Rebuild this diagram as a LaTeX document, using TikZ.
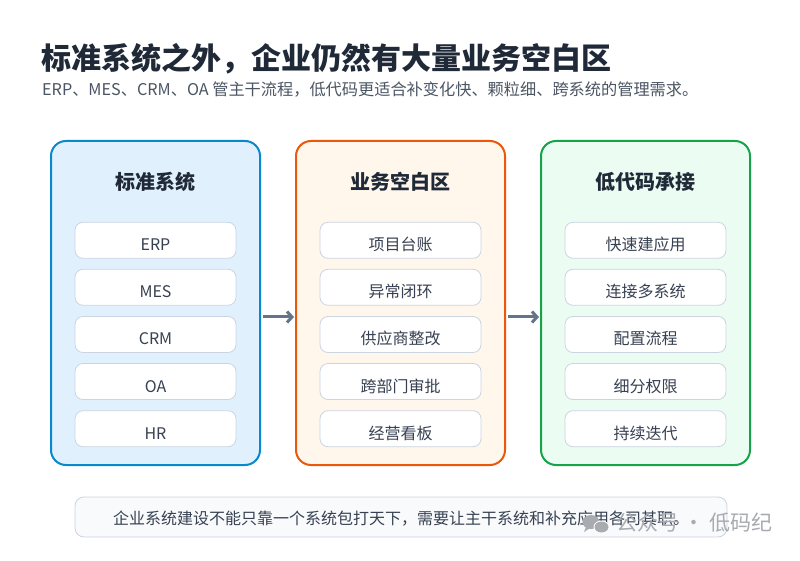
\documentclass[tikz,border=0pt]{standalone}
\usepackage{fontspec}
\setmainfont{Noto Sans CJK SC}
\usetikzlibrary{arrows.meta}
\definecolor{titlec}{HTML}{1F2937}
\definecolor{subc}{HTML}{4B5563}
\definecolor{itemc}{HTML}{374151}
\definecolor{blueB}{HTML}{0A88CC}
\definecolor{blueF}{HTML}{E0F1FD}
\definecolor{orgB}{HTML}{EA580C}
\definecolor{orgF}{HTML}{FFF6EC}
\definecolor{grnB}{HTML}{16A34A}
\definecolor{grnF}{HTML}{EBFCF2}
\definecolor{itemB}{HTML}{CBD5E1}
\definecolor{arrC}{HTML}{64748B}
\definecolor{barF}{HTML}{F8FAFC}
\definecolor{wmC}{HTML}{A8ABB0}
\tikzset{
  panel/.style={draw, line width=2pt, rounded corners=15pt, minimum width=209pt, minimum height=324pt, inner sep=0pt},
  ptitle/.style={font=\fontsize{20}{24}\selectfont\bfseries, text=titlec},
  item/.style={draw=itemB, line width=0.8pt, fill=white, rounded corners=8pt, minimum width=161pt, minimum height=36pt, inner sep=0pt, text height=21pt, text depth=0pt, font=\fontsize{16}{18}\selectfont, text=itemc},
  flow/.style={draw=arrC, line width=3pt, -{Straight Barb[length=5pt,width=11pt]}},
}
\begin{document}
\begin{tikzpicture}[x=1pt,y=1pt]
\useasboundingbox (0,0) rectangle (800,560);
\fill[white] (0,0) rectangle (800,560);
% title
\node[anchor=west, inner sep=0pt, font=\fontsize{30}{34}\selectfont\bfseries, text=titlec] (title) at (41,501) {标准系统之外，企业仍然有大量业务空白区};
\node[anchor=west, inner sep=0pt, font=\fontsize{16.2}{19}\selectfont, text=subc] (sub) at (42,470.5) {ERP、MES、CRM、OA 管主干流程，低代码更适合补变化快、颗粒细、跨系统的管理需求。};
% panels
\node[panel, draw=blueB, fill=blueF] (p1) at (155.5,257) {};
\node[panel, draw=orgB, fill=orgF] (p2) at (400.5,257) {};
\node[panel, draw=grnB, fill=grnF] (p3) at (645.5,257) {};
\node[ptitle] (t1) at (155.5,378.5) {标准系统};
\node[ptitle] (t2) at (400.5,378.5) {业务空白区};
\node[ptitle] (t3) at (645.5,378.5) {低代码承接};
% items
\node[item] (a1) at (155.5,319.7) {ERP};
\node[item] (a2) at (155.5,272.7) {MES};
\node[item] (a3) at (155.5,225.5) {CRM};
\node[item] (a4) at (155.5,178.5) {OA};
\node[item] (a5) at (155.5,131.3) {HR};
\node[item] (b1) at (400.5,319.7) {项目台账};
\node[item] (b2) at (400.5,272.7) {异常闭环};
\node[item] (b3) at (400.5,225.5) {供应商整改};
\node[item] (b4) at (400.5,178.5) {跨部门审批};
\node[item] (b5) at (400.5,131.3) {经营看板};
\node[item] (c1) at (645.5,319.7) {快速建应用};
\node[item] (c2) at (645.5,272.7) {连接多系统};
\node[item] (c3) at (645.5,225.5) {配置流程};
\node[item] (c4) at (645.5,178.5) {细分权限};
\node[item] (c5) at (645.5,131.3) {持续迭代};
% arrows
\draw[flow, shorten <=2pt, shorten >=1pt] ([yshift=-14pt]p1.east) -- ([yshift=-14pt]p2.west);
\draw[flow, shorten <=2pt, shorten >=1pt] ([yshift=-14pt]p2.east) -- ([yshift=-14pt]p3.west);
% bottom bar
\node[draw=itemB, line width=0.8pt, fill=barF, rounded corners=9pt, minimum width=652pt, minimum height=40pt, inner sep=0pt, text height=15pt, text depth=0pt, font=\fontsize{16}{18}\selectfont, text=itemc] (bar) at (401,43) {企业系统建设不能只靠一个系统包打天下，需要让主干系统和补充应用各司其职。};
% watermark
\fill[wmC] (591,38) ellipse (8.5pt and 7pt);
\fill[wmC] (586,33) -- (584,28) -- (590,32) -- cycle;
\fill[white] (601.5,33) ellipse (8pt and 6.5pt);
\fill[wmC] (601.5,33) ellipse (7pt and 5.5pt);
\node[anchor=west, inner sep=0pt, font=\fontsize{21}{24}\selectfont, text=wmC] (wm) at (616,38) {公众号 · 低码纪};
\end{tikzpicture}
\end{document}
